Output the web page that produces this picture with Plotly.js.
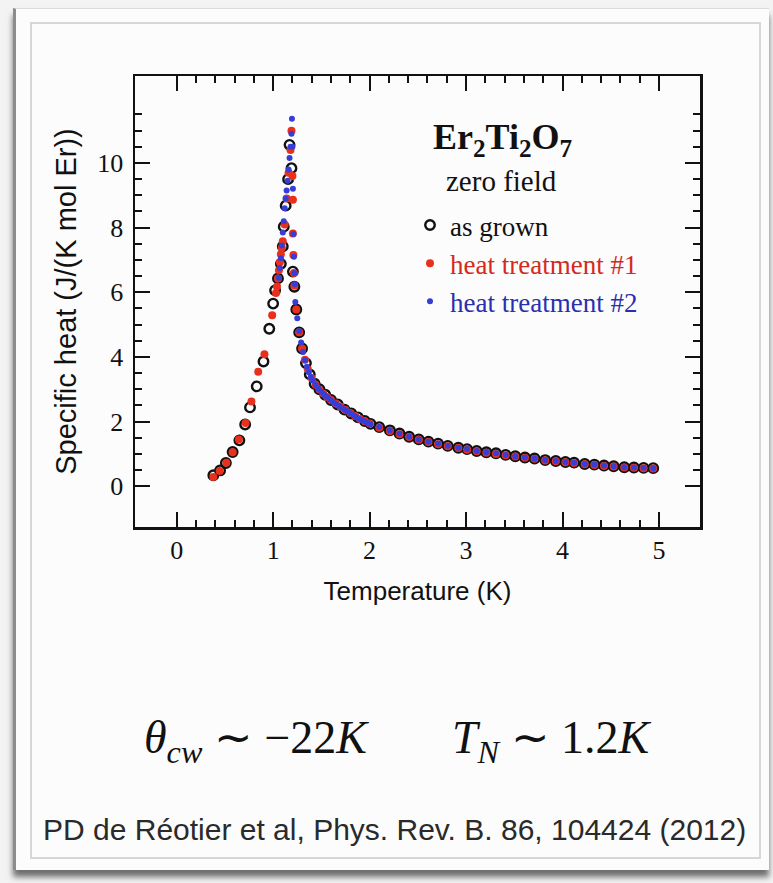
<!DOCTYPE html>
<html>
<head>
<meta charset="utf-8">
<script src="https://cdn.plot.ly/plotly-3.0.1.min.js"></script>
<style>
  html, body { margin: 0; padding: 0; background: #f3f3f3; }
  #card { position: absolute; left: 13px; top: 8px; width: 753px; height: 861px;
          background: #fcfcfc; border-left: 3px solid #8c8c8c; border-top: 1px solid #dcdcdc;
          box-shadow: 0 7px 6px rgba(0,0,0,0.55); }
  #inner { position: absolute; left: 30px; top: 22px; width: 727px; height: 833px;
           border: 2px solid #d6d6d6; }
  #chart { position: absolute; left: 0; top: 0; width: 773px; height: 883px; }
</style>
</head>
<body>
<div id="card"></div>
<div id="inner"></div>
<div id="chart"></div>
<script>
// ---- data ----
const asGrownT = [0.38,0.45,0.51,0.58,0.65,0.71,0.76,0.83,0.90,0.96,
  1.00,1.02,1.05,1.08,1.10,1.11,1.13,1.155,1.17,1.19,
  1.205,1.22,1.24,1.27,1.30,1.34,1.38,1.43,1.48,1.54,
  1.60,1.67,1.74,1.81,1.88,1.95,2.01,
  2.10,2.21,2.31,2.41,2.51,2.61,2.71,2.81,2.92,3.01,
  3.11,3.21,3.31,3.41,3.51,3.61,3.71,3.82,3.93,4.03,
  4.12,4.23,4.33,4.43,4.53,4.64,4.74,4.84,4.94];
const asGrownC = [0.34,0.49,0.72,1.06,1.42,1.91,2.44,3.09,3.86,4.87,
  5.65,6.06,6.43,6.88,7.42,8.03,8.68,9.50,10.56,9.84,
  6.64,6.17,5.47,4.76,4.26,3.81,3.46,3.17,3.00,2.83,
  2.67,2.53,2.37,2.25,2.13,2.02,1.93,
  1.83,1.73,1.63,1.53,1.45,1.38,1.32,1.25,1.19,1.15,
  1.09,1.05,1.02,0.97,0.93,0.89,0.86,0.81,0.78,0.75,
  0.73,0.69,0.67,0.64,0.62,0.59,0.58,0.57,0.56];

const heat1T = [0.38,0.445,0.515,0.58,0.645,0.715,0.775,0.845,0.91,0.99,
  1.03,1.04,1.05,1.06,1.07,1.08,1.09,1.10,1.12,1.14,
  1.16,1.18,1.19,1.20,1.205,1.205,1.21,1.215,1.22,1.24,
  1.27,1.30,1.33,1.36,1.40,1.44,1.48,1.52,1.56,1.60,
  1.65,1.70,1.75,1.80,1.85,1.90,1.95,2.00,
  2.10,2.21,2.31,2.41,2.51,2.61,2.71,2.81,2.92,3.01,
  3.11,3.21,3.31,3.41,3.51,3.61,3.71,3.82,3.93,4.03,
  4.12,4.23,4.33,4.43,4.53,4.64,4.74,4.84,4.94];
const heat1C = [0.29,0.47,0.73,1.05,1.45,1.96,2.62,3.54,4.08,5.29,
  5.98,6.18,6.43,6.68,6.93,7.18,7.38,7.58,8.10,8.90,
  9.70,10.40,11.00,9.60,8.86,7.82,7.15,6.60,6.20,5.47,
  4.76,4.26,3.91,3.62,3.34,3.14,2.99,2.87,2.76,2.67,
  2.56,2.46,2.36,2.27,2.17,2.08,2.01,1.94,
  1.81,1.71,1.61,1.52,1.44,1.37,1.30,1.24,1.18,1.13,
  1.08,1.04,1.00,0.96,0.92,0.88,0.85,0.80,0.77,0.74,
  0.72,0.68,0.66,0.63,0.61,0.58,0.57,0.56,0.55];

const heat2T = [1.06,1.07,1.08,1.09,1.10,1.11,1.12,1.13,1.14,1.15,
  1.16,1.17,1.18,1.19,1.195,1.20,1.205,1.21,1.215,1.22,
  1.225,1.23,1.25,1.27,1.29,1.31,1.33,1.35,1.37,1.39,
  1.41,1.44,1.47,1.50,1.53,1.56,1.59,1.62,1.65,1.68,
  1.71,1.74,1.77,1.80,1.83,1.86,1.89,1.92,1.95,1.98,
  2.01,
  2.10,2.21,2.31,2.41,2.51,2.61,2.71,2.81,2.92,3.01,
  3.11,3.21,3.31,3.41,3.51,3.61,3.71,3.82,3.93,4.03,
  4.12,4.23,4.33,4.43,4.53,4.64,4.74,4.84,4.94];
const heat2C = [6.45,6.75,7.05,7.45,7.85,8.20,8.60,8.90,9.15,9.45,
  9.80,10.15,10.50,10.90,11.37,10.50,9.20,7.80,7.10,6.60,
  6.25,5.70,5.20,4.80,4.45,4.15,3.90,3.70,3.53,3.39,
  3.27,3.13,3.02,2.92,2.83,2.75,2.68,2.61,2.55,2.49,
  2.43,2.37,2.32,2.26,2.20,2.14,2.09,2.04,2.00,1.96,
  1.92,
  1.83,1.73,1.63,1.53,1.45,1.38,1.32,1.25,1.19,1.15,
  1.09,1.05,1.02,0.97,0.93,0.89,0.86,0.81,0.78,0.75,
  0.73,0.69,0.67,0.64,0.62,0.59,0.58,0.57,0.56];

const seriesNames = ['as grown', 'heat treatment #1', 'heat treatment #2'];
const xTickVals = [0, 1, 2, 3, 4, 5];
const xTickText = ['0', '1', '2', '3', '4', '5'];
const xMinorVals = [0.2,0.4,0.6,0.8,1.2,1.4,1.6,1.8,2.2,2.4,2.6,2.8,3.2,3.4,3.6,3.8,4.2,4.4,4.6,4.8];
const yTickVals = [0, 2, 4, 6, 8, 10];
const yTickText = ['0', '2', '4', '6', '8', '10'];
const yMinorVals = [0.5,1,1.5,2.5,3,3.5,4.5,5,5.5,6.5,7,7.5,8.5,9,9.5,10.5,11,11.5];

// ---- layout geometry (pixels) ----
const W = 773, H = 883;
const L = 135, R = 700, T = 76, B = 527;
const px = v => (v - L) / (R - L);
const py = v => (B - v) / (B - T);

const ink = '#111111';
const serif = 'Liberation Serif, Times New Roman, serif';
const sans = 'Liberation Sans, Arial, sans-serif';

const traces = [
  { x: asGrownT, y: asGrownC, type: 'scatter', mode: 'markers', name: seriesNames[0],
    marker: { symbol: 'circle-open', size: 9.5, color: ink, line: { width: 2.4, color: ink } } },
  { x: heat1T, y: heat1C, type: 'scatter', mode: 'markers',
    name: '<span style="color:#d42a1c">' + seriesNames[1] + '</span>',
    marker: { symbol: 'circle', size: 8, color: 'rgb(232,48,28)' } },
  { x: heat2T, y: heat2C, type: 'scatter', mode: 'markers',
    name: '<span style="color:#2a2fb0">' + seriesNames[2] + '</span>',
    marker: { symbol: 'circle', size: 6, color: 'rgb(55,62,215)' } }
];

const axisCommon = {
  showline: true, linewidth: 2.5, linecolor: ink, mirror: 'ticks',
  ticks: 'inside', ticklen: 15, tickwidth: 2, tickcolor: ink,
  showgrid: false, zeroline: false, fixedrange: true,
  tickfont: { family: serif, size: 26, color: ink }
};

const layout = {
  width: W, height: H,
  margin: { l: L, r: W - R, t: T, b: H - B, pad: 0 },
  paper_bgcolor: 'rgba(0,0,0,0)', plot_bgcolor: 'rgba(0,0,0,0)',
  showlegend: true,
  legend: { x: px(410), y: py(201), xanchor: 'left', yanchor: 'top',
            bgcolor: 'rgba(0,0,0,0)', font: { family: serif, size: 27, color: ink },
            itemwidth: 30, tracegroupgap: 0 },
  xaxis: Object.assign({}, axisCommon, {
    range: [-0.432, 5.425], tickmode: 'array', tickvals: xTickVals, ticktext: xTickText,
    minor: { tickmode: 'array', tickvals: xMinorVals, ticks: 'inside', ticklen: 7, tickwidth: 2, tickcolor: ink },
    ticklabelstandoff: -2,
    title: { text: 'Temperature (K)', font: { family: sans, size: 26, color: ink }, standoff: 18 }
  }),
  yaxis: Object.assign({}, axisCommon, {
    range: [-1.26, 12.69], tickmode: 'array', tickvals: yTickVals, ticktext: yTickText,
    minor: { tickmode: 'array', tickvals: yMinorVals, ticks: 'inside', ticklen: 7, tickwidth: 2, tickcolor: ink },
    ticklabelstandoff: 4,
    title: { text: 'Specific heat (J/(K mol Er))', font: { family: sans, size: 29, color: ink }, standoff: 12 }
  }),
  annotations: [
    { xref: 'paper', yref: 'paper', x: px(502), y: py(139), xanchor: 'center', yanchor: 'middle',
      showarrow: false, text: '<b>Er<sub>2</sub>Ti<sub>2</sub>O<sub>7</sub></b>',
      font: { family: serif, size: 36, color: ink } },
    { xref: 'paper', yref: 'paper', x: px(501), y: py(181), xanchor: 'center', yanchor: 'middle',
      showarrow: false, text: 'zero field', font: { family: serif, size: 29, color: ink } },
    { xref: 'paper', yref: 'paper', x: px(256), y: py(741), xanchor: 'center', yanchor: 'middle',
      showarrow: false, text: '<i>θ</i><sub><i>cw</i></sub> ∼ −22<i>K</i>',
      font: { family: serif, size: 46, color: ink } },
    { xref: 'paper', yref: 'paper', x: px(552), y: py(741), xanchor: 'center', yanchor: 'middle',
      showarrow: false, text: '<i>T</i><sub><i>N</i></sub> ∼ 1.2<i>K</i>',
      font: { family: serif, size: 46, color: ink } },
    { xref: 'paper', yref: 'paper', x: px(394), y: py(829), xanchor: 'center', yanchor: 'middle',
      showarrow: false, text: 'PD de Réotier et al, Phys. Rev. B. 86, 104424 (2012)',
      font: { family: sans, size: 30, color: '#2a2a2a' } }
  ]
};

Plotly.newPlot('chart', traces, layout, { displayModeBar: false, staticPlot: true });
</script>
</body>
</html>
